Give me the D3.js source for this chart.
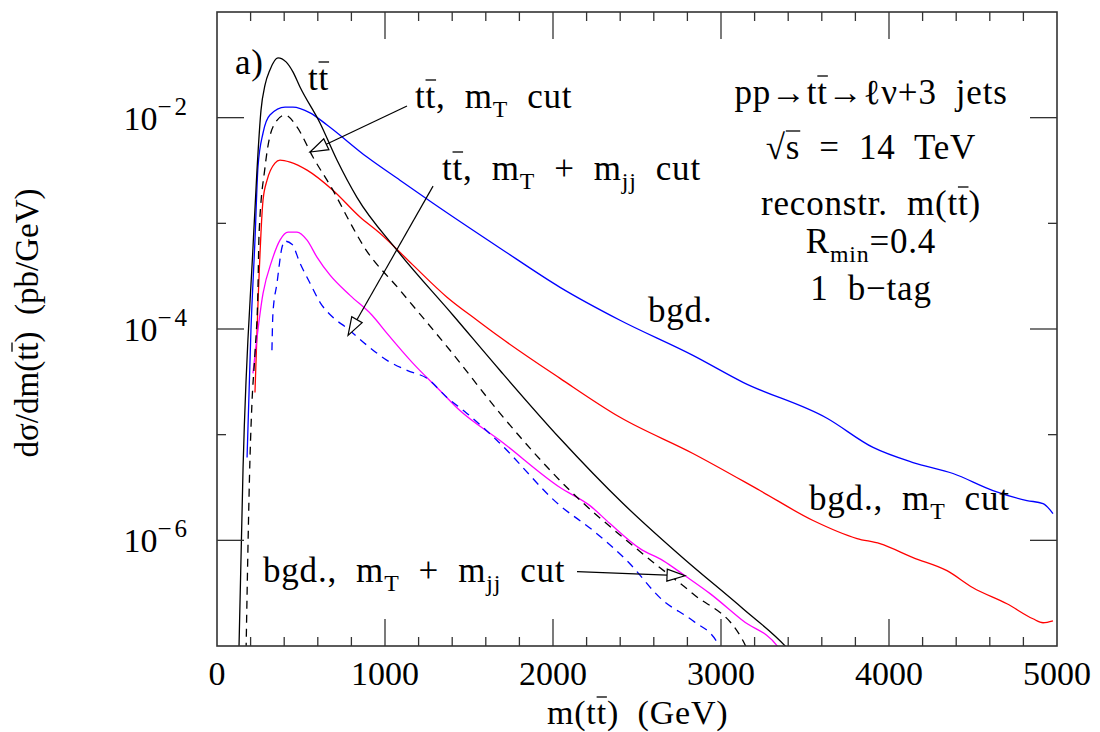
<!DOCTYPE html>
<html>
<head>
<meta charset="utf-8">
<script src="https://cdn.jsdelivr.net/npm/d3@7"></script>
<style>
body { margin: 0; background: #fff; }
text { font-family: "Liberation Serif", serif; fill: #000; white-space: pre; }
text.lbl { letter-spacing: 0.8px; }
</style>
</head>
<body>
<div id="chart"></div>
<script>
// values: [m(tt) in GeV, dsigma/dm in pb/GeV]
var ttSignal = [[128,6e-8],[155,4.79e-6],[214,5.82e-4],[238,3.19e-3],[262,1.18e-2],[286,2.04e-2],[315,2.83e-2],[363,3.68e-2],[411,3.37e-2],[452,2.71e-2],[494,1.95e-2],[613,8.9e-3],[714,3.97e-3],[833,1.76e-3],[1071,5.57e-4],[1405,1.35e-4],[1685,4.05e-5],[2042,9.2e-6],[2417,2.23e-6],[2774,6.8e-7],[3131,2.25e-7],[3387,9.8e-8],[3450,7.5e-8]];
var ttMt = [[173,9e-8],[196,5.69e-6],[208,1.98e-5],[226,5.89e-5],[244,2.48e-4],[250,7.66e-4],[286,3.41e-3],[333,8.17e-3],[405,1.06e-2],[476,8.17e-3],[571,4.24e-3],[690,2.06e-3],[792,1.02e-3],[869,6.21e-4],[1089,2.33e-4],[1387,6.29e-5],[1685,1.59e-5],[2089,3.09e-6],[2440,9.9e-7],[2637,5.51e-7],[2833,3.12e-7],[3131,1.12e-7],[3173,8.1e-8]];
var ttMtMjj = [[214,3.80e-5],[274,2.17e-4],[327,4.46e-4],[375,6.93e-4],[423,8.26e-4],[476,8.26e-4],[536,6.93e-4],[595,4.79e-4],[673,3.23e-4],[792,2.08e-4],[923,1.35e-4],[1012,9.10e-5],[1167,4.73e-5],[1327,2.62e-5],[1446,1.69e-5],[1685,8.81e-6],[2042,3.16e-6],[2220,2.13e-6],[2339,1.44e-6],[2518,8.34e-7],[2655,6.43e-7],[2786,4.62e-7],[2935,3.13e-7],[3131,1.73e-7],[3339,9.8e-8],[3363,8.6e-8]];
var bgd = [[179,6.08e-6],[202,9.7e-5],[226,6.93e-4],[244,3.41e-3],[274,7.16e-3],[315,1.06e-2],[405,1.26e-2],[452,1.26e-2],[554,1.11e-2],[655,8.53e-3],[893,4.24e-3],[1089,2.56e-3],[1286,1.55e-3],[1685,5.82e-4],[2042,2.48e-4],[2399,1.21e-4],[2833,5.63e-5],[3131,3.13e-5],[3631,1.43e-5],[3905,7.57e-6],[4143,5.45e-6],[4381,4.29e-6],[4619,2.96e-6],[4821,2.38e-6],[4917,2.23e-6],[4976,1.79e-6]];
var bgdMt = [[226,2.51e-5],[244,1.75e-4],[274,1.66e-3],[298,2.56e-3],[345,3.72e-3],[375,3.97e-3],[435,3.80e-3],[536,3.19e-3],[690,2.06e-3],[851,1.15e-3],[970,8.07e-4],[1167,4.02e-4],[1369,2.00e-4],[1548,1.21e-4],[1685,8.34e-5],[2042,3.41e-5],[2399,1.46e-5],[2833,6.64e-6],[3232,2.96e-6],[3548,1.54e-6],[3810,1.04e-6],[3946,9.3e-7],[4143,6.86e-7],[4345,5.16e-7],[4500,3.56e-7],[4702,2.51e-7],[4857,1.81e-7],[4917,1.66e-7],[4976,1.73e-7]];
var bgdMtMjj = [[327,6.28e-5],[333,1.41e-4],[357,2.71e-4],[387,5.94e-4],[405,6.78e-4],[446,6.35e-4],[494,4.20e-4],[554,2.71e-4],[613,1.79e-4],[690,1.29e-4],[774,1.02e-4],[893,7.01e-5],[1012,5.05e-5],[1131,4.06e-5],[1250,3.41e-5],[1369,2.25e-5],[1488,1.59e-5],[1667,8.81e-6],[2042,2.13e-6],[2238,1.24e-6],[2440,6.43e-7],[2655,2.69e-7],[2833,1.73e-7],[2982,1.05e-7],[3006,8.5e-8]];

var xTickLabels = [0, 1000, 2000, 3000, 4000, 5000];
var yTickLabels = [1e-2, 1e-4, 1e-6];

var width = 1100, height = 732,
    margin = {top: 12, right: 43, bottom: 86, left: 217};

var x = d3.scaleLinear().domain([0, 5000]).range([margin.left, width - margin.right]);
var y = d3.scaleLog().domain([1e-7, 1e-1]).range([height - margin.bottom, margin.top]);

var svg = d3.select("#chart").append("svg")
    .attr("width", width)
    .attr("height", height)
    .style("display", "block");

svg.append("defs").append("clipPath").attr("id", "clip")
  .append("rect")
    .attr("x", x(0)).attr("y", y(1e-1))
    .attr("width", x(5000) - x(0)).attr("height", y(1e-7) - y(1e-1));

// curves
var line = d3.line()
    .x(function(d){ return x(d[0]); })
    .y(function(d){ return y(d[1]); })
    .curve(d3.curveMonotoneX);

var series = [
  {data: bgd, color: "#0000ff", dash: null},
  {data: bgdMt, color: "#ff0000", dash: null},
  {data: ttMtMjj, color: "#ff00ff", dash: null},
  {data: bgdMtMjj, color: "#0000ff", dash: "8,6"},
  {data: ttMt, color: "#000", dash: "8,6"},
  {data: ttSignal, color: "#000", dash: null}
];

var plot = svg.append("g").attr("clip-path", "url(#clip)");
plot.selectAll("path")
  .data(series)
  .enter()
  .append("path")
    .attr("d", function(d){ return line(d.data); })
    .attr("fill", "none")
    .attr("stroke", function(d){ return d.color; })
    .attr("stroke-width", 1.3)
    .attr("stroke-dasharray", function(d){ return d.dash; });

// frame and ticks
var frameColor = "#333";
svg.append("rect")
    .attr("x", x(0)).attr("y", y(1e-1))
    .attr("width", x(5000) - x(0)).attr("height", y(1e-7) - y(1e-1))
    .attr("fill", "none").attr("stroke", frameColor).attr("stroke-width", 1.6);

var ticks = svg.append("g").attr("stroke", frameColor).attr("stroke-width", 1.3);
d3.range(200, 5000, 200).forEach(function(v){
  var len = v % 1000 === 0 ? 27 : 9;
  ticks.append("line").attr("x1", x(v)).attr("x2", x(v)).attr("y1", y(1e-7)).attr("y2", y(1e-7) - len);
  ticks.append("line").attr("x1", x(v)).attr("x2", x(v)).attr("y1", y(1e-1)).attr("y2", y(1e-1) + len);
});
d3.range(-6, -1).forEach(function(p){
  var v = Math.pow(10, p), len = p % 2 === 0 ? 27 : 9;
  ticks.append("line").attr("x1", x(0)).attr("x2", x(0) + len).attr("y1", y(v)).attr("y2", y(v));
  ticks.append("line").attr("x1", x(5000)).attr("x2", x(5000) - len).attr("y1", y(v)).attr("y2", y(v));
});

// rich text helper: parts are strings or {s, sub|sup|ov}
function richText(parent, px, py, parts, anchor, size, cls) {
  size = size || 35;
  var t = parent.append("text")
      .attr("class", cls === undefined ? "lbl" : cls)
      .attr("x", px).attr("y", py)
      .attr("text-anchor", anchor || "start")
      .attr("font-size", size);
  var shift = 0, overs = [];
  parts.forEach(function(p){
    if (typeof p === "string") p = {s: p};
    var target = p.sub ? 9 : (p.sup ? -15 : 0);
    var ts = t.append("tspan").text(p.s).attr("dy", target - shift);
    if (p.sub) ts.attr("font-size", size * 0.68);
    if (p.sup) ts.attr("font-size", 25).style("letter-spacing", "3px");
    shift = target;
    if (p.ov) overs.push(ts);
  });
  overs.forEach(function(ts){
    var b = ts.node().getBBox();
    parent.append("line")
      .attr("x1", b.x).attr("x2", b.x + b.width)
      .attr("y1", b.y + 3).attr("y2", b.y + 3)
      .attr("stroke", "#000").attr("stroke-width", 1.3);
  });
  return t;
}

// tick labels
xTickLabels.forEach(function(v){
  svg.append("text").attr("x", x(v)).attr("y", 685)
    .attr("text-anchor", "middle").attr("font-size", 34).text(v);
});
yTickLabels.forEach(function(v){
  var p = Math.round(Math.log10(v));
  richText(svg, 190, y(v) + 12, ["10", {s: "\u2212" + (-p), sup: 1}], "end", 34, "");
});

// axis titles
richText(svg, 547, 724, ["m(t", {s: "t", ov: 1}, ")  (GeV)"], "start", 34);
var yt = svg.append("g").attr("transform", "translate(38," + ((y(1e-1) + y(1e-7)) / 2 - 6) + ") rotate(-90)");
richText(yt, 0, 0, ["d\u03c3/dm(t", {s: "t", ov: 1}, ")  (pb/GeV)"], "middle", 33, "");

// labels
richText(svg, 235, 74, ["a)"]);
richText(svg, 308, 90, ["t", {s: "t", ov: 1}]);
richText(svg, 415, 108, ["t", {s: "t", ov: 1}, ",  m", {s: "T", sub: 1}, "  cut"]);
richText(svg, 442, 180, ["t", {s: "t", ov: 1}, ",  m", {s: "T", sub: 1}, "  +  m", {s: "jj", sub: 1}, "  cut"]);
richText(svg, 648, 322, ["bgd."]);
richText(svg, 809, 510, ["bgd.,  m", {s: "T", sub: 1}, "  cut"]);
richText(svg, 263, 582, ["bgd.,  m", {s: "T", sub: 1}, "  +  m", {s: "jj", sub: 1}, "  cut"]);

var cx = 871;
richText(svg, cx, 104, ["pp\u2192t", {s: "t", ov: 1}, "\u2192\u2113\u03bd+3  jets"], "middle");
richText(svg, cx, 159, ["\u221a", {s: "s", ov: 1}, "  =  14  TeV"], "middle");
richText(svg, cx, 215, ["reconstr.  m(t", {s: "t", ov: 1}, ")"], "middle");
richText(svg, cx, 253, ["R", {s: "min", sub: 1}, "=0.4"], "middle");
richText(svg, cx, 300, ["1  b\u2212tag"], "middle");

// arrows (data coordinates: from label to curve)
var arrows = [
  {from: [1131, 1.29e-2], to: [554, 4.73e-3]},
  {from: [1286, 2.25e-3], to: [780, 8.7e-5]},
  {from: [2143, 5.05e-7], to: [2786, 4.62e-7]}
];
arrows.forEach(function(a){
  var sx = x(a.from[0]), sy = y(a.from[1]), tx = x(a.to[0]), ty = y(a.to[1]);
  var dx = tx - sx, dy = ty - sy, L = Math.sqrt(dx * dx + dy * dy);
  var ux = dx / L, uy = dy / L, nx = -uy, ny = ux;
  var bx = tx - 18 * ux, by = ty - 18 * uy;
  svg.append("line").attr("x1", sx).attr("y1", sy).attr("x2", bx).attr("y2", by)
    .attr("stroke", "#000").attr("stroke-width", 1.2);
  svg.append("path")
    .attr("d", "M" + tx + "," + ty + "L" + (bx + 6 * nx) + "," + (by + 6 * ny) + "L" + (bx - 6 * nx) + "," + (by - 6 * ny) + "Z")
    .attr("fill", "#fff").attr("stroke", "#000").attr("stroke-width", 1.2);
});
</script>
</body>
</html>
